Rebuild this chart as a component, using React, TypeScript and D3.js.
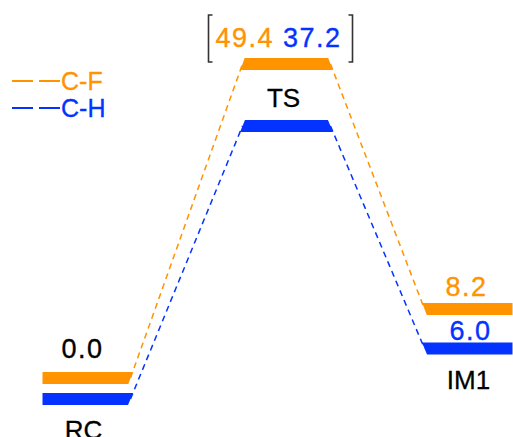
import React from 'react';
import * as d3 from 'd3';

// reaction profile, kcal/mol
const stages = ['RC', 'TS', 'IM1'];
const reactionCoord = [0, 1, 1.91];
const cfEnergies = [0.0, 49.4, 8.2];
const chEnergies = [0.0, 37.2, 6.0];
const seriesNames = ['C-F', 'C-H'];

const ORANGE = '#FF9300';
const BLUE = '#0433FF';
const FONT = '"Liberation Sans", Arial, Helvetica, sans-serif';

const width = 513, height = 437;
const halfBar = 44, thick = 12;

export default function App() {
  const x = d3.scaleLinear().domain([0, 1]).range([86.5, 286.5]);
  // schematic (not to scale) energy axis
  const y = d3.scaleLinear().domain([0, 10, 40, 50]).range([378, 294, 85.5, 62.6]);

  const series = [
    { name: seriesNames[0], color: ORANGE, values: cfEnergies, shift: 0 },
    { name: seriesNames[1], color: BLUE, values: chEnergies, shift: 21 },
  ];

  const pts = (s) => s.values.map((v, i) => ({ cx: x(reactionCoord[i]), cy: y(v) + s.shift, v }));

  const barPath = (p, i, arr) => {
    const h = thick / 2;
    const x0 = p.cx - halfBar, x1 = p.cx + halfBar;
    let sl = 0, sr = 0;
    if (i > 0) {
      const q = arr[i - 1];
      sl = ((x0 - (q.cx + halfBar)) / (p.cy - q.cy));
    }
    if (i < arr.length - 1) {
      const q = arr[i + 1];
      sr = (((q.cx - halfBar) - x1) / (q.cy - p.cy));
    }
    const path = d3.path();
    path.moveTo(x0 - h * sl, p.cy - h);
    path.lineTo(x1 - h * sr, p.cy - h);
    path.lineTo(x1 + h * sr, p.cy + h);
    path.lineTo(x0 + h * sl, p.cy + h);
    path.closePath();
    return path.toString();
  };

  const line = d3.line().x((d) => d[0]).y((d) => d[1]);
  const cf = pts(series[0]);
  const ch = pts(series[1]);
  const tsX = cf[1].cx;
  const fmt = d3.format('.1f');
  const num = { fontSize: 27, letterSpacing: 1.5, strokeWidth: 0.35 };

  return (
    <svg width={width} height={height} style={{ position: 'absolute', left: 0, top: 0 }}
      fontFamily={FONT}>
      {/* connectors */}
      {series.map((s) => {
        const p = pts(s);
        return p.slice(0, -1).map((a, i) => (
          <path key={`c-${s.name}-${i}`}
            d={line([[a.cx + halfBar, a.cy], [p[i + 1].cx - halfBar, p[i + 1].cy]])}
            fill="none" stroke={s.color} strokeWidth={1.5} strokeDasharray="6,4.5" />
        ));
      })}
      {/* levels */}
      {series.map((s) => {
        const p = pts(s);
        return p.map((d, i) => (
          <path key={`b-${s.name}-${i}`} d={barPath(d, i, p)} fill={s.color} />
        ));
      })}

      {/* energy labels */}
      <text x={cf[0].cx - 4} y={cf[0].cy - 20} {...num} stroke="#000"
        textAnchor="middle" fill="#000">{fmt(cfEnergies[0])}</text>
      <text x={cf[2].cx - 2} y={cf[2].cy - 13.5} {...num} stroke={ORANGE}
        textAnchor="middle" fill={ORANGE}>{fmt(cfEnergies[2])}</text>
      <text x={ch[2].cx + 2} y={ch[2].cy - 8.5} {...num} stroke={BLUE}
        textAnchor="middle" fill={BLUE}>{fmt(chEnergies[2])}</text>
      <text x={tsX - 8} y={cf[1].cy - 16.5} {...num} textAnchor="middle">
        <tspan fill={ORANGE} stroke={ORANGE}>{fmt(cfEnergies[1])}</tspan>
        <tspan fill={BLUE} stroke={BLUE}>{' ' + fmt(chEnergies[1])}</tspan>
      </text>
      <path d={`M${tsX - 74},15H${tsX - 78}V62H${tsX - 74}M${tsX + 62},15H${tsX + 66}V62H${tsX + 62}`}
        fill="none" stroke="#333" strokeWidth={1.6} />

      {/* stage labels */}
      {stages.map((st, i) => {
        const yy = i === 1 ? (cf[i].cy + ch[i].cy) / 2 + 11.7 : ch[i].cy + 40;
        return (
          <text key={st} x={cf[i].cx - (i === 2 ? 0 : 3)} y={yy} fontSize={26}
            textAnchor="middle" fill="#000" stroke="#000" strokeWidth={0.3}>{st}</text>
        );
      })}

      {/* legend */}
      {series.map((s, i) => (
        <g key={`lg-${s.name}`} transform={`translate(12,${81 + i * 27})`}>
          <line x1={0} x2={48} y1={0} y2={0} stroke={s.color} strokeWidth={2} strokeDasharray="21,6" />
          <text x={49} y={9} fontSize={25} fill={s.color} stroke={s.color} strokeWidth={0.3}>{s.name}</text>
        </g>
      ))}
    </svg>
  );
}
